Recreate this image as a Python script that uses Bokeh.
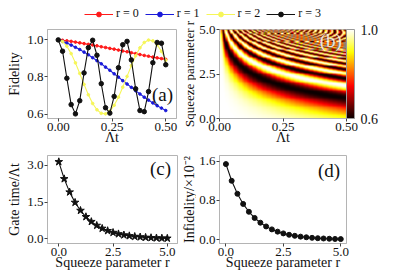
import math
import numpy as np
from bokeh.plotting import figure
from bokeh.layouts import column, row
from bokeh.models import (Range1d, Legend, LegendItem, Label, LinearColorMapper,
                          ColorBar, FixedTicker, NumeralTickFormatter)
from bokeh.embed import file_html
from bokeh.resources import INLINE

FONT = "Liberation Serif"

# ---------------- data: panel (a) fidelity vs time ----------------
t_vals = [0.00, 0.02, 0.04, 0.06, 0.08, 0.10, 0.12, 0.14, 0.16, 0.18, 0.20, 0.22, 0.24,
          0.26, 0.28, 0.30, 0.32, 0.34, 0.36, 0.38, 0.40, 0.42, 0.44, 0.46, 0.48, 0.50]
fid_r0 = [1.000, 0.998, 0.995, 0.992, 0.988, 0.984, 0.980, 0.976, 0.972, 0.968, 0.963, 0.959, 0.954,
          0.950, 0.945, 0.940, 0.936, 0.931, 0.926, 0.921, 0.916, 0.912, 0.907, 0.903, 0.899, 0.895]
fid_r1 = [1.000, 0.992, 0.983, 0.972, 0.960, 0.948, 0.934, 0.920, 0.904, 0.888, 0.871, 0.853, 0.836,
          0.817, 0.799, 0.780, 0.762, 0.744, 0.726, 0.708, 0.691, 0.675, 0.660, 0.645, 0.632, 0.619]
fid_r2 = [1.000, 0.991, 0.966, 0.926, 0.876, 0.819, 0.760, 0.704, 0.657, 0.623, 0.604, 0.601, 0.616,
          0.647, 0.691, 0.745, 0.803, 0.861, 0.914, 0.957, 0.986, 0.999, 0.995, 0.974, 0.938, 0.890]
fid_r3 = [1.000, 0.939, 0.793, 0.651, 0.601, 0.672, 0.822, 0.958, 0.998, 0.917, 0.764, 0.634, 0.605,
          0.695, 0.850, 0.974, 0.992, 0.892, 0.736, 0.619, 0.613, 0.721, 0.877, 0.986, 0.982, 0.866]
series_labels = ["r = 0", "r = 1", "r = 2", "r = 3"]
series_colors = ["#ff1a1a", "#1a1ad9", "#f6f658", "#111111"]

# ---------------- data: panel (b) fidelity map ----------------
heat_t = np.linspace(0.0, 0.5, 100)
heat_r = np.linspace(0.0, 5.0, 100)
fringe_mean = 0.8
fringe_amp = 0.2
heat_F = fringe_mean + fringe_amp * np.cos(2.0 * np.outer(np.exp(heat_r), heat_t))

# ---------------- data: panels (c), (d) ----------------
r_vals = [0.00, 0.25, 0.50, 0.75, 1.00, 1.25, 1.50, 1.75, 2.00, 2.25, 2.50,
          2.75, 3.00, 3.25, 3.50, 3.75, 4.00, 4.25, 4.50, 4.75, 5.00]
gate_time = [3.142, 2.447, 1.906, 1.484, 1.156, 0.900, 0.701, 0.546, 0.425, 0.331, 0.258,
             0.201, 0.156, 0.122, 0.095, 0.074, 0.058, 0.045, 0.035, 0.027, 0.021]
infidelity = [1.540, 1.199, 0.934, 0.727, 0.567, 0.441, 0.344, 0.268, 0.208, 0.162, 0.126,
              0.098, 0.077, 0.060, 0.047, 0.036, 0.028, 0.022, 0.017, 0.013, 0.010]

# ticks
a_xticks = [0.0, 0.25, 0.5]
a_yticks = [0.6, 0.8, 1.0]
b_yticks = [0.0, 2.5, 5.0]
cb_ticks = [0.6, 1.0]
c_xticks = [0.0, 2.5, 5.0]
c_yticks = [0.0, 1.5, 3.0]
d_yticks = [0.0, 0.8, 1.6]


def hot_palette(n=256):
    x = np.linspace(0, 1, n)
    r = np.clip(0.0416 + (1 - 0.0416) * x / 0.365079, 0, 1)
    g = np.clip((x - 0.365079) / (0.746032 - 0.365079), 0, 1)
    b = np.clip((x - 0.746032) / (1 - 0.746032), 0, 1)
    return ["#%02x%02x%02x" % (int(round(255 * a)), int(round(255 * bb)), int(round(255 * c)))
            for a, bb, c in zip(r, g, b)]


def style(p, xticks, yticks, xfmt, yfmt):
    p.outline_line_color = "#b4b4b4"
    p.outline_line_width = 1
    p.grid.visible = False
    p.xaxis.ticker = FixedTicker(ticks=xticks)
    p.yaxis.ticker = FixedTicker(ticks=yticks)
    p.xaxis.formatter = NumeralTickFormatter(format=xfmt)
    p.yaxis.formatter = NumeralTickFormatter(format=yfmt)
    for ax in p.axis:
        ax.axis_line_color = "#b4b4b4"
        ax.major_tick_line_color = "#444444"
        ax.major_tick_in = 0
        ax.major_tick_out = 3
        ax.minor_tick_line_color = None
        ax.major_label_text_font = FONT
        ax.major_label_text_font_size = "13px"
        ax.major_label_text_color = "#111111"
        ax.major_label_standoff = 1
        ax.axis_label_text_font = FONT
        ax.axis_label_text_font_size = "14px"
        ax.axis_label_text_font_style = "normal"
        ax.axis_label_text_color = "#111111"
    p.xaxis.axis_label_standoff = -4
    p.yaxis.axis_label_standoff = 2


def title_strip(width, height, text, top, bottom, size="14px"):
    """Narrow strip carrying the y-axis title of the panel to its right."""
    f = figure(width=width, height=height, x_range=Range1d(0, 1), y_range=Range1d(0, 1),
               x_axis_location=None, min_border_left=width - 1, min_border_right=0,
               min_border_top=top, min_border_bottom=bottom, **common)
    f.grid.visible = False
    f.outline_line_color = None
    ax = f.yaxis[0]
    ax.ticker = FixedTicker(ticks=[])
    ax.axis_line_color = None
    ax.major_tick_line_color = None
    ax.minor_tick_line_color = None
    ax.major_tick_out = 0
    ax.major_tick_in = 0
    ax.major_label_standoff = 0
    ax.major_label_text_font_size = "0px"
    ax.axis_label = text
    ax.axis_label_standoff = 0
    ax.axis_label_text_font = FONT
    ax.axis_label_text_font_size = size
    ax.axis_label_text_font_style = "normal"
    ax.axis_label_text_color = "#111111"
    return f


def text_label(p, x, y, text, size, color="#111111", alpha=1.0):
    p.add_layout(Label(x=x, y=y, text=text, text_align="center",
                       text_baseline="middle", text_font=FONT, text_font_size=size,
                       text_color=color, text_alpha=alpha))


common = dict(toolbar_location=None, output_backend="svg")

# ---------------- legend strip (series drawn out of view, legend only) ----------------
leg = figure(width=399, height=21, x_range=Range1d(10, 11), y_range=Range1d(10, 11),
             x_axis_location=None, y_axis_location=None, min_border=0, **common)
leg.grid.visible = False
leg.outline_line_color = None
items = []
for lab, vals, col, sz in zip(series_labels, [fid_r0, fid_r1, fid_r2, fid_r3],
                              series_colors, [3, 3, 3, 4]):
    ln = leg.line(t_vals, vals, color=col, line_width=1)
    sc = leg.scatter(t_vals, vals, marker="circle", size=sz, color=col)
    items.append(LegendItem(label=lab, renderers=[ln, sc]))
legend = Legend(items=items, orientation="horizontal", location=(84, 0),
                border_line_color=None, background_fill_alpha=0, padding=0, margin=0,
                spacing=6, glyph_width=29, glyph_height=12, label_height=12,
                label_standoff=3, label_text_font=FONT, label_text_font_size="12px",
                label_text_color="#111111")
leg.add_layout(legend)

# ---------------- panel (a) ----------------
fa = figure(width=178, height=127, x_range=Range1d(-0.05, 0.55), y_range=Range1d(0.576, 1.056),
            min_border_left=47, min_border_right=2, min_border_top=6, min_border_bottom=30, **common)
for vals, col, sz in zip([fid_r0, fid_r1, fid_r2, fid_r3], series_colors, [2.6, 2.6, 2.6, 4.5]):
    fa.line(t_vals, vals, color=col, line_width=1.1)
    fa.scatter(t_vals, vals, marker="circle", size=sz, color=col)
style(fa, a_xticks, a_yticks, "0.00", "0.0")
fa.xaxis.axis_label = "Λt"
fa.yaxis.axis_label = "Fidelity"
text_label(fa, 0.485, 0.708, "(a)", "19px")

strip_b = title_strip(18, 127, "Squeeze parameter r", 8, 0, size="13px")

# ---------------- panel (b) ----------------
mapper = LinearColorMapper(palette=hot_palette(), low=cb_ticks[0], high=cb_ticks[-1])
fb = figure(width=203, height=127, x_range=Range1d(0, 0.5), y_range=Range1d(0, 5),
            min_border_left=20, min_border_right=53, min_border_top=8, min_border_bottom=30, **common)
fb.image(image=[heat_F], x=heat_t[0], y=heat_r[0], dw=heat_t[-1] - heat_t[0],
         dh=heat_r[-1] - heat_r[0], color_mapper=mapper)
style(fb, a_xticks, b_yticks, "0.00", "0.0")
fb.xaxis.axis_label = "Λt"
text_label(fb, 0.438, 4.38, "(b)", "19px", color="#f4f4f4", alpha=0.9)
cb = ColorBar(color_mapper=mapper, ticker=FixedTicker(ticks=cb_ticks),
              formatter=NumeralTickFormatter(format="0.0"), width=8, padding=0, margin=12,
              label_standoff=6, major_tick_line_color=None, bar_line_color="#999999",
              major_label_text_font=FONT, major_label_text_font_size="14px",
              major_label_text_color="#111111",
              background_fill_alpha=0, border_line_color=None)
fb.add_layout(cb, "right")

# ---------------- panel (c) ----------------
fc = figure(width=178, height=131, x_range=Range1d(-0.52, 5.47), y_range=Range1d(-0.19, 3.40),
            min_border_left=47, min_border_right=1, min_border_top=7, min_border_bottom=36, **common)
fc.line(r_vals, gate_time, color="#111111", line_width=1.1)
fc.scatter(r_vals, gate_time, marker="star", size=8, color="#111111")
style(fc, c_xticks, c_yticks, "0.0", "0.0")
fc.xaxis.axis_label = "Squeeze parameter r"
fc.yaxis.axis_label = "Gate time/Λt"
text_label(fc, 4.69, 2.87, "(c)", "19px")

strip_d = title_strip(18, 131, "Infidelity/×10⁻²", 5, 30)

# ---------------- panel (d) ----------------
fd = figure(width=203, height=131, x_range=Range1d(-0.28, 5.25), y_range=Range1d(-0.08, 1.715),
            min_border_left=20, min_border_right=53, min_border_top=7, min_border_bottom=36, **common)
fd.line(r_vals, infidelity, color="#111111", line_width=1.1)
fd.scatter(r_vals, infidelity, marker="circle", size=5, color="#111111")
style(fd, c_xticks, d_yticks, "0.0", "0.0")
fd.xaxis.axis_label = "Squeeze parameter r"
text_label(fd, 4.49, 1.41, "(d)", "19px")

layout = column(leg, row(fa, strip_b, fb), row(fc, strip_d, fd))

open("out.html", "w").write(file_html(layout, INLINE))
